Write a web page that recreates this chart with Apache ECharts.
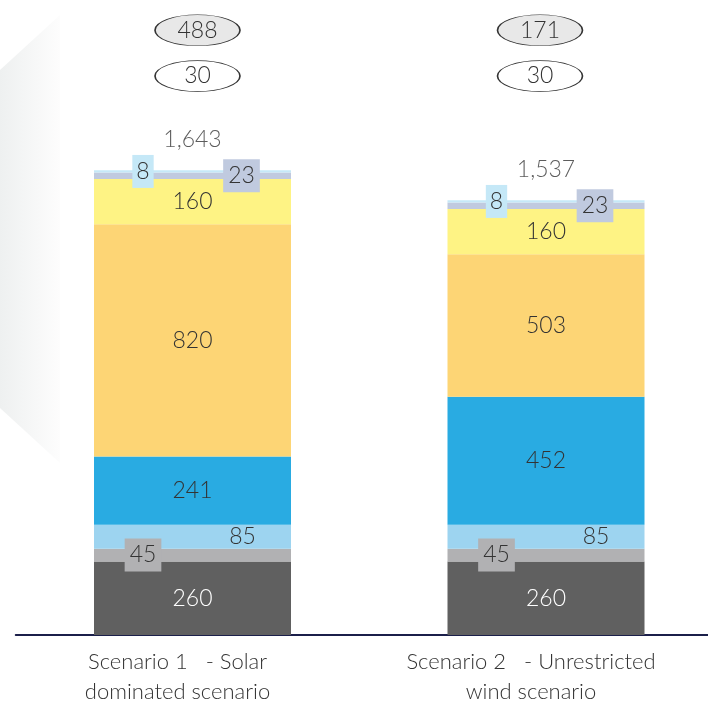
<!DOCTYPE html>
<html>
<head>
<meta charset="utf-8">
<script src="https://cdn.jsdelivr.net/npm/echarts@6/dist/echarts.min.js"></script>
<style>html,body{margin:0;padding:0;background:#fff}#c{width:708px;height:705px}</style>
</head>
<body>
<div id="c"></div>
<script>
// ---- data ----
var categories = ['Scenario 1   - Solar\ndominated scenario', 'Scenario 2   - Unrestricted\nwind scenario'];
var segA = [260, 260];
var segB = [45, 45];
var segC = [85, 85];
var segD = [241, 452];
var segE = [820, 503];
var segF = [160, 160];
var segG = [23, 23];
var segH = [8, 8];
var totals = [1643, 1537];
var ovalTop = [488, 171];
var ovalBottom = [30, 30];

// ---- chart ----
var FONT = 'Lato, "Open Sans", sans-serif';
var chart = echarts.init(document.getElementById('c'), null, {renderer: 'canvas'});

function barSeries(name, data, color, label) {
  return {
    name: name, type: 'bar', stack: 'total', data: data, barWidth: 197,
    itemStyle: {color: color},
    label: Object.assign({show: true, position: 'inside', fontFamily: FONT, fontSize: 23,
      color: '#333333', fontWeight: 300}, label || {}),
    emphasis: {disabled: true}, silent: true
  };
}

var ovalYTop = 2137;
var ovalYBottom = 1975;
var ovalOffsets = [5, -6];

function ovalSeries(vals, yv, fill) {
  return {
    type: 'scatter', z: 5, silent: true,
    data: vals.map(function (v, i) {
      return {value: [i, yv], symbolOffset: [ovalOffsets[i], 0], name: String(v)};
    }),
    symbol: 'circle', symbolSize: [85, 31],
    itemStyle: {color: fill, borderColor: '#333333', borderWidth: 1, opacity: 1},
    label: {show: true, position: 'inside', formatter: function (p) { return p.name; },
      fontFamily: FONT, fontSize: 23, color: '#333333', fontWeight: 300}
  };
}

var option = {
  animation: false,
  backgroundColor: '#ffffff',
  graphic: [{
    type: 'polygon', silent: true, z: -10,
    shape: {points: [[0, 70], [60, 15], [60, 463], [0, 408]]},
    style: {fill: new echarts.graphic.LinearGradient(0, 0, 1, 0, [
      {offset: 0, color: '#eef0f0'}, {offset: 1, color: '#fdfdfd'}])}
  }],
  grid: {left: 15.75, width: 707, top: 12.4, bottom: 70, containLabel: false, outerBoundsMode: 'none'},
  xAxis: {
    type: 'category', data: categories,
    axisLine: {show: true, lineStyle: {color: '#1b1f4a', width: 2}},
    axisTick: {show: false},
    axisLabel: {fontFamily: FONT, fontSize: 22, color: '#333333', fontWeight: 300,
      lineHeight: 30, margin: 12, padding: [0, 30, 0, 0], interval: 0}
  },
  yAxis: {type: 'value', min: 0, max: 2200, show: false, splitLine: {show: false}},
  series: [
    barSeries('A', segA, '#606060', {color: '#ffffff'}),
    barSeries('B', segB, '#b1b1b3', {offset: [-49.5, 0], backgroundColor: '#b1b1b3', padding: [5, 5]}),
    barSeries('C', segC, '#9dd4f0', {offset: [50, 0]}),
    barSeries('D', segD, '#29abe2'),
    barSeries('E', segE, '#fdd575'),
    barSeries('F', segF, '#fef384'),
    barSeries('G', segG, '#c0cadf', {offset: [49, 0], backgroundColor: '#c0cadf', padding: [5, 5]}),
    barSeries('H', segH, '#c5e8f7', {offset: [-49.5, 0], backgroundColor: '#c5e8f7', padding: [5, 4]}),
    {
      type: 'scatter', silent: true, z: 5,
      data: totals.map(function (v, i) { return [i, v]; }),
      symbolSize: 0,
      label: {show: true, position: 'top', distance: 19,
        formatter: function (p) { return p.value[1].toLocaleString('en-US'); },
        fontFamily: FONT, fontSize: 23, color: '#333333', fontWeight: 300}
    },
    ovalSeries(ovalTop, ovalYTop, '#e8e8e8'),
    ovalSeries(ovalBottom, ovalYBottom, '#ffffff')
  ]
};
chart.setOption(option);
</script>
</body>
</html>
